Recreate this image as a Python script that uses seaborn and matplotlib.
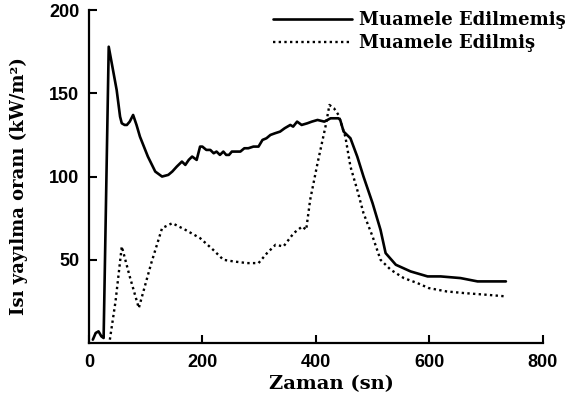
import matplotlib
matplotlib.use("Agg")
import matplotlib.pyplot as plt
import seaborn as sns
import pandas as pd

# --- data ---
untreated_t = [7, 12, 17, 22, 26, 35, 42, 49, 55, 58, 63, 67, 72, 78, 84, 90, 104, 117,
               129, 140, 147, 155, 164, 170, 176, 182, 190, 196, 200, 207, 214, 220, 225,
               231, 237, 242, 247, 252, 258, 267, 274, 281, 290, 299, 306, 313, 320, 328,
               337, 345, 355, 360, 367, 375, 385, 393, 403, 415, 426, 440, 443, 449, 461,
               473, 484, 500, 514, 523, 541, 567, 597, 620, 655, 685, 735]
untreated_q = [2, 6, 7, 4, 3, 178, 165, 152, 136, 132, 131, 131, 133, 137, 131, 124, 112, 103,
               100, 101, 103, 106, 109, 107, 110, 112, 110, 118, 118, 116, 116, 114, 115,
               113, 115, 113, 113, 115, 115, 115, 117, 117, 118, 118, 122, 123, 125, 126,
               127, 129, 131, 130, 133, 131, 132, 133, 134, 133, 135, 135, 134, 127, 123,
               112, 100, 84, 68, 54, 47, 43, 40, 40, 39, 37, 37]

treated_t = [37, 47, 58, 72, 88, 110, 129, 147, 170, 196, 219, 237, 255, 279, 299, 314,
             329, 343, 361, 376, 383, 390, 403, 417, 424, 432, 440, 452, 461, 473, 484,
             500, 514, 532, 555, 579, 599, 630, 661, 700, 735]
treated_q = [2, 25, 58, 40, 21, 48, 69, 72, 68, 63, 56, 50, 49, 48, 48, 54,
             59, 58, 66, 70, 68, 86, 108, 130, 143, 141, 137, 124, 106, 92, 78,
             64, 50, 44, 39, 36, 33, 31, 30, 29, 28]

series_labels = ["Muamele Edilmemiş", "Muamele Edilmiş"]
x_ticks = [0, 200, 400, 600, 800]
y_ticks = [50, 100, 150, 200]
x_label = "Zaman (sn)"
y_label = "Isı yayılma oranı (kW/m²)"

sns.set_style("ticks")
plt.rcParams["font.family"] = ["DejaVu Serif"]
plt.rcParams["text.color"] = "black"
plt.rcParams["axes.labelcolor"] = "black"
plt.rcParams["xtick.color"] = "black"
plt.rcParams["ytick.color"] = "black"

fig = plt.figure(figsize=(5.66, 4.04), dpi=100)
ax = fig.add_axes([0.157, 0.151, 0.802, 0.824])

df1 = pd.DataFrame({"t": untreated_t, "q": untreated_q})
df2 = pd.DataFrame({"t": treated_t, "q": treated_q})
sns.lineplot(data=df1, x="t", y="q", ax=ax, color="black", lw=1.9,
             sort=False, estimator=None, label=series_labels[0])
sns.lineplot(data=df2, x="t", y="q", ax=ax, color="black", lw=1.7,
             linestyle=(0, (1, 1.4)), sort=False, estimator=None, label=series_labels[1])

ax.set_xlim(0, 800)
ax.set_ylim(0, 200)
ax.set_xticks(x_ticks)
ax.set_yticks(y_ticks)
ax.set_xticklabels([str(v) for v in x_ticks], fontfamily="Liberation Sans",
                   fontweight="bold", fontsize=13, color="black")
ax.set_yticklabels([str(v) for v in y_ticks], fontfamily="Liberation Sans",
                   fontweight="bold", fontsize=13, color="black")
ax.tick_params(axis="both", direction="in", length=6, width=1.5, colors="black")
ax.tick_params(axis="x", pad=8)
ax.tick_params(axis="y", pad=7)

for s in ["top", "right"]:
    ax.spines[s].set_visible(False)
for s in ["left", "bottom"]:
    ax.spines[s].set_linewidth(1.6)
    ax.spines[s].set_color("black")

ax.set_xlabel(x_label, fontweight="bold", fontsize=14, color="black")
ax.set_ylabel(y_label, fontweight="bold", fontsize=13, color="black")
ax.xaxis.set_label_coords(0.535, -0.096)
ax.yaxis.set_label_coords(-0.134, 0.47)

leg = ax.legend(loc="upper left", bbox_to_anchor=(0.482, 0.972),
                bbox_transform=fig.transFigure, frameon=False,
                prop={"family": "DejaVu Serif", "weight": "bold", "size": 13},
                handlelength=4.4, handletextpad=0.35, labelspacing=0.25,
                borderpad=0, borderaxespad=0)
for t in leg.get_texts():
    t.set_color("black")

fig.savefig("out.png", dpi=100)
